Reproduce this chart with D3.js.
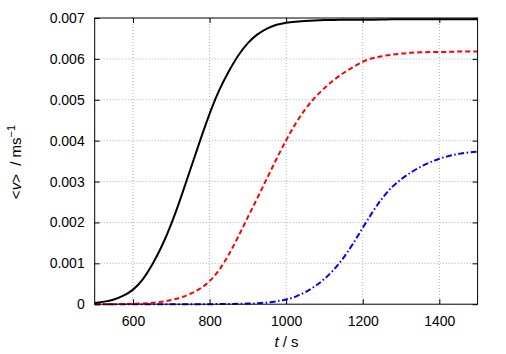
<!DOCTYPE html>
<html><head><meta charset="utf-8">
<script src="https://cdn.jsdelivr.net/npm/d3@7"></script>
<style>body{margin:0;background:#fff}svg{display:block}text{font-family:"Liberation Sans",Arial,sans-serif}</style>
</head><body><svg id="c" width="506" height="354"></svg>
<script>
const times = [500,525,550,575,600,625,650,675,700,725,750,775,800,825,850,875,900,925,950,975,1000,1025,1050,1075,1100,1125,1150,1175,1200,1225,1250,1275,1300,1325,1350,1375,1400,1425,1450,1475,1500];
const blackV = [0.00003,0.00006,0.00011,0.0002,0.00034,0.00058,0.00095,0.0014,0.00195,0.0026,0.0033,0.0040,0.00467,0.00525,0.0057,0.0061,0.0064,0.00661,0.00675,0.00684,0.00689,0.00691,0.00693,0.00694,0.00695,0.00695,0.00696,0.00696,0.00696,0.00696,0.00696,0.00697,0.00697,0.00697,0.00697,0.00697,0.00697,0.00697,0.00697,0.00697,0.00697];
const redV = [0,0,0,0.000005,0.00001,0.00002,0.00003,0.00006,0.0001,0.00016,0.00025,0.00037,0.00055,0.00082,0.0012,0.00165,0.00213,0.0026,0.00308,0.00356,0.00402,0.00443,0.00478,0.00506,0.00529,0.00549,0.00566,0.0058,0.00594,0.00602,0.00607,0.0061,0.00613,0.00615,0.00616,0.00617,0.00617,0.00617,0.00618,0.00618,0.00618];
const blueV = [0,0,0,0,0,0,0,0,0,0,0,0,0,0.000003,0.000006,0.00001,0.000015,0.00002,0.00004,0.00007,0.00011,0.00018,0.00029,0.00043,0.00061,0.00084,0.00113,0.00148,0.00187,0.00225,0.00259,0.00286,0.00306,0.00322,0.00336,0.00347,0.00356,0.00363,0.00368,0.00371,0.00373];
const xTicks = [600,800,1000,1200,1400];
const yTicks = [0,0.001,0.002,0.003,0.004,0.005,0.006,0.007];

const svg = d3.select("#c");
const L=94.7,R=477.6,T=18,B=304.2;
const x = d3.scaleLinear().domain([500,1500]).range([L,R]);
const y = d3.scaleLinear().domain([0,0.007]).range([B,T]);

// grid
svg.append("g").selectAll("line").data(xTicks).join("line")
  .attr("x1",d=>x(d)).attr("x2",d=>x(d)).attr("y1",T).attr("y2",B)
  .attr("stroke","#b0b0b0").attr("stroke-width",1).attr("stroke-dasharray","1,2");
svg.append("g").selectAll("line").data(yTicks.filter(d=>d>0&&d<0.007)).join("line")
  .attr("x1",L).attr("x2",R).attr("y1",d=>y(d)).attr("y2",d=>y(d))
  .attr("stroke","#b0b0b0").attr("stroke-width",1).attr("stroke-dasharray","1,2");

// axes
const fmt = d=> d===0?"0":d3.format(".3f")(d);
const ax = svg.append("g").attr("transform",`translate(${L},0)`)
  .call(d3.axisLeft(y).tickValues(yTicks).tickFormat(fmt).tickSizeInner(-5).tickSizeOuter(0).tickPadding(10));
const axR = svg.append("g").attr("transform",`translate(${R},0)`)
  .call(d3.axisRight(y).tickValues(yTicks).tickFormat("").tickSizeInner(-5).tickSizeOuter(0));
const bx = svg.append("g").attr("transform",`translate(0,${B})`)
  .call(d3.axisBottom(x).tickValues(xTicks).tickFormat(d3.format("d")).tickSizeInner(-5).tickSizeOuter(0).tickPadding(12));
const tx = svg.append("g").attr("transform",`translate(0,${T})`)
  .call(d3.axisTop(x).tickValues(xTicks).tickFormat("").tickSizeInner(-5).tickSizeOuter(0));
[ax,axR,bx,tx].forEach(g=>{g.select(".domain").remove();g.selectAll("text").attr("font-size",14).attr("fill","#000").attr("font-family","Liberation Sans, Arial, sans-serif");g.selectAll("line").attr("stroke","#000")});

// curves
const mk = vals => d3.line().x((d,i)=>x(times[i])).y(d=>y(d)).curve(d3.curveBasis)(vals);
svg.append("path").attr("d",mk(blueV)).attr("fill","none").attr("stroke","#0000ff").attr("stroke-width",2).attr("stroke-dasharray","6,2.5,1.5,2.5");
svg.append("path").attr("d",mk(redV)).attr("fill","none").attr("stroke","#ff0000").attr("stroke-width",2).attr("stroke-dasharray","5,3");
svg.append("path").attr("d",mk(blackV)).attr("fill","none").attr("stroke","#000").attr("stroke-width",2);

// frame
svg.append("rect").attr("x",L).attr("y",T).attr("width",R-L).attr("height",B-T).attr("fill","none").attr("stroke","#000").attr("stroke-width",1);

// labels
svg.append("text").attr("x",286.5).attr("y",347).attr("text-anchor","middle").attr("font-size",15)
  .html('<tspan font-style="italic">t</tspan> / s');
svg.append("text").attr("transform","translate(21,162) rotate(-90)").attr("text-anchor","middle").attr("font-size",15)
  .style("white-space","pre")
  .html('&lt;<tspan font-style="italic">v</tspan>&gt;  / ms<tspan dy="-6" font-size="11">−1</tspan>');
</script></body></html>
